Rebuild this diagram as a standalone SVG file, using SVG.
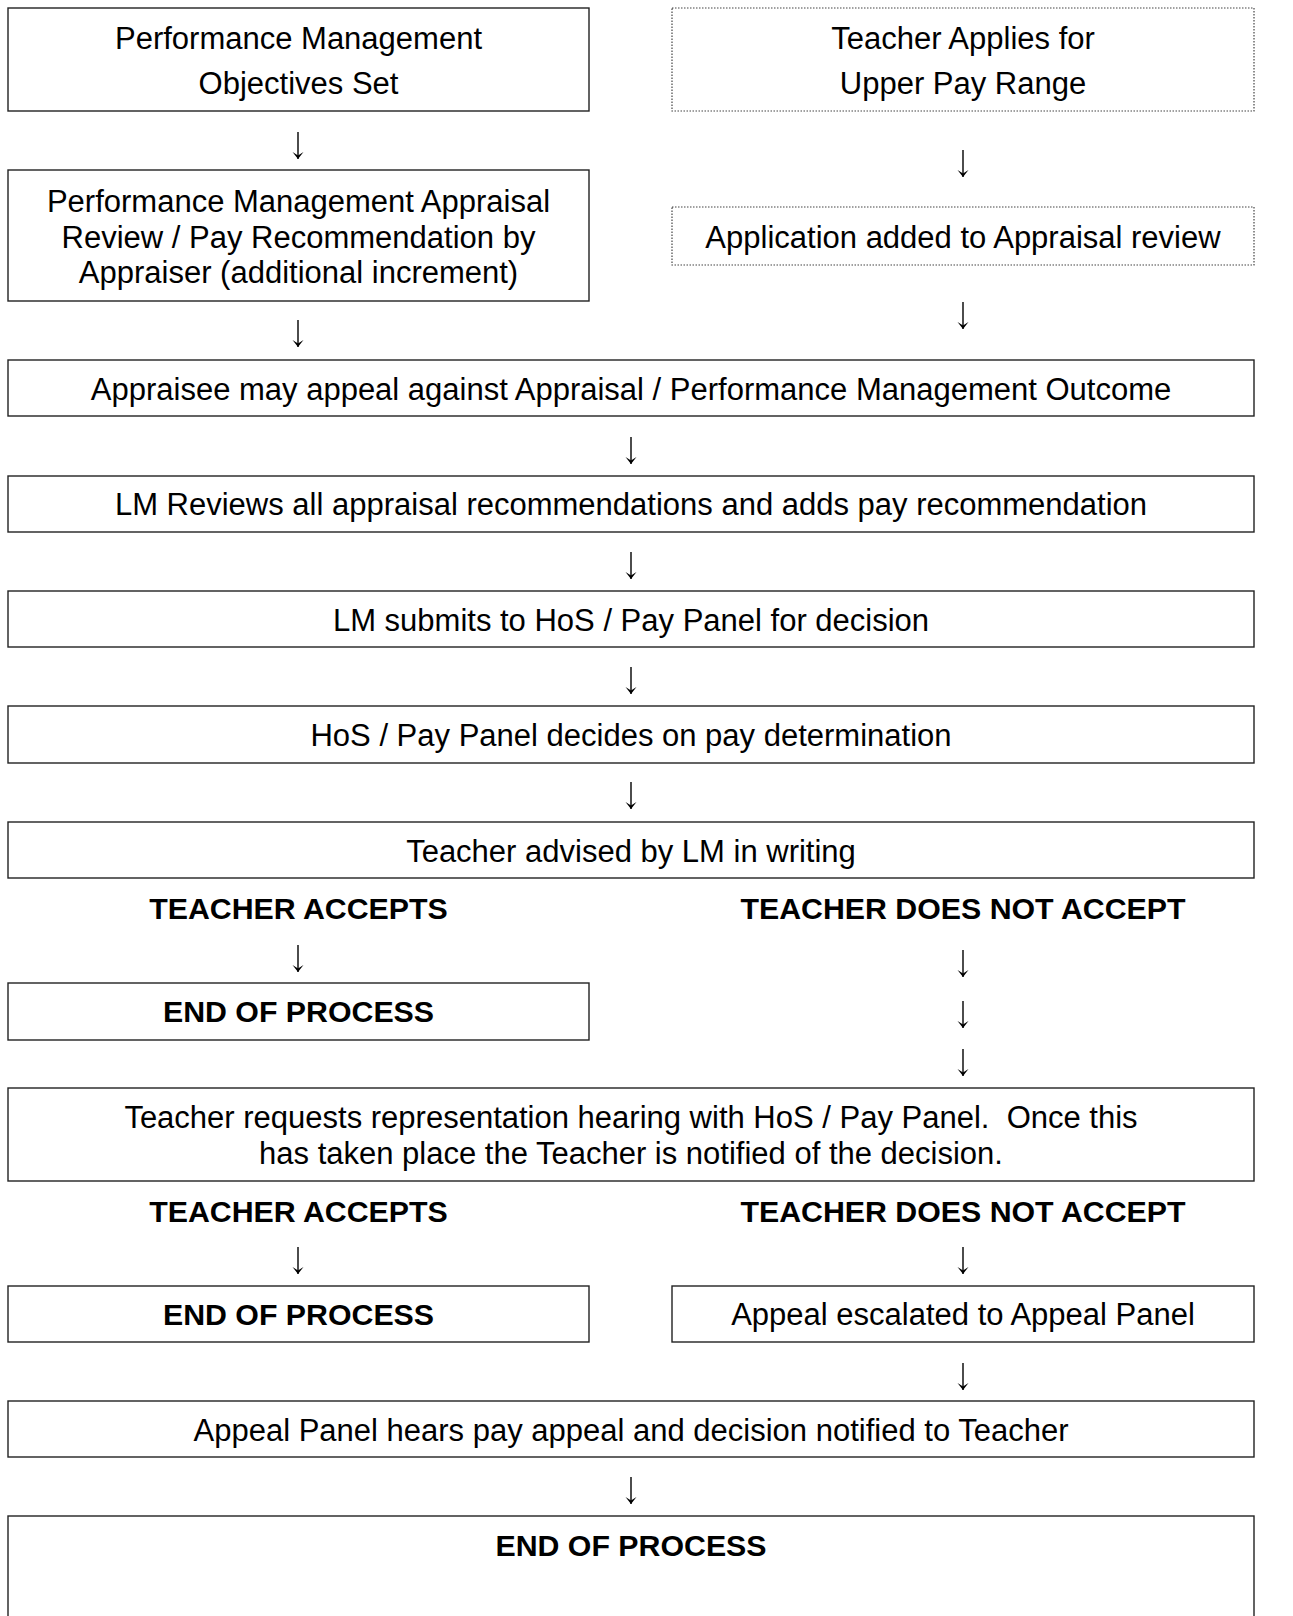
<svg xmlns="http://www.w3.org/2000/svg" width="1293" height="1616" viewBox="0 0 1293 1616">
<style>
.box{fill:#fff;stroke:#222;stroke-width:1.4}
.dot{fill:#fff;stroke:#444;stroke-width:1.2;stroke-dasharray:1.5 1.5}
.t{font-family:"Liberation Sans",Arial,sans-serif;font-size:31px;fill:#000;text-anchor:middle;white-space:pre}
.b{font-family:"Liberation Sans",Arial,sans-serif;font-size:30.3px;font-weight:bold;fill:#000;text-anchor:middle}
.c line{stroke:#000;stroke-width:1.4;marker-end:url(#ah)}
</style>
<defs>
<marker id="ah" markerUnits="userSpaceOnUse" markerWidth="14" markerHeight="10" refX="7" refY="9" orient="0" viewBox="0 0 14 10">
<path d="M1.5,2 L7,9 L12.5,2 L7,5.5 Z" fill="#000"/>
</marker>
</defs>
<rect width="1293" height="1616" fill="#fff"/>
<g id="n1"><rect class="box" x="8" y="8" width="581" height="103"/><text class="t" x="298.5" y="49">Performance Management</text><text class="t" x="298.5" y="94">Objectives Set</text></g>
<g id="n2"><rect class="dot" x="672" y="8" width="582" height="103"/><text class="t" x="963" y="49">Teacher Applies for</text><text class="t" x="963" y="94">Upper Pay Range</text></g>
<g id="n3"><rect class="box" x="8" y="170" width="581" height="131"/><text class="t" x="298.5" y="212">Performance Management Appraisal</text><text class="t" x="298.5" y="248">Review / Pay Recommendation by</text><text class="t" x="298.5" y="283">Appraiser (additional increment)</text></g>
<g id="n4"><rect class="dot" x="672" y="207" width="582" height="58"/><text class="t" x="963" y="248">Application added to Appraisal review</text></g>
<g id="n5"><rect class="box" x="8" y="360" width="1246" height="56"/><text class="t" x="631" y="400">Appraisee may appeal against Appraisal / Performance Management Outcome</text></g>
<g id="n6"><rect class="box" x="8" y="476" width="1246" height="56"/><text class="t" x="631" y="515">LM Reviews all appraisal recommendations and adds pay recommendation</text></g>
<g id="n7"><rect class="box" x="8" y="591" width="1246" height="56"/><text class="t" x="631" y="631">LM submits to HoS / Pay Panel for decision</text></g>
<g id="n8"><rect class="box" x="8" y="706" width="1246" height="57"/><text class="t" x="631" y="746">HoS / Pay Panel decides on pay determination</text></g>
<g id="n9"><rect class="box" x="8" y="822" width="1246" height="56"/><text class="t" x="631" y="862">Teacher advised by LM in writing</text></g>
<g id="l1"><text class="b" x="298.5" y="919">TEACHER ACCEPTS</text></g>
<g id="l2"><text class="b" x="963" y="919">TEACHER DOES NOT ACCEPT</text></g>
<g id="n10"><rect class="box" x="8" y="983" width="581" height="57"/><text class="b" x="298.5" y="1022">END OF PROCESS</text></g>
<g id="n11"><rect class="box" x="8" y="1088" width="1246" height="93"/><text class="t" x="631" y="1128">Teacher requests representation hearing with HoS / Pay Panel.  Once this</text><text class="t" x="631" y="1164">has taken place the Teacher is notified of the decision.</text></g>
<g id="l3"><text class="b" x="298.5" y="1222">TEACHER ACCEPTS</text></g>
<g id="l4"><text class="b" x="963" y="1222">TEACHER DOES NOT ACCEPT</text></g>
<g id="n12"><rect class="box" x="8" y="1286" width="581" height="56"/><text class="b" x="298.5" y="1325">END OF PROCESS</text></g>
<g id="n13"><rect class="box" x="672" y="1286" width="582" height="56"/><text class="t" x="963" y="1325">Appeal escalated to Appeal Panel</text></g>
<g id="n14"><rect class="box" x="8" y="1401" width="1246" height="56"/><text class="t" x="631" y="1441">Appeal Panel hears pay appeal and decision notified to Teacher</text></g>
<g id="n15"><rect class="box" x="8" y="1516" width="1246" height="120"/><text class="b" x="631" y="1556">END OF PROCESS</text></g>
<g id="connectors" class="c">
<line x1="298" y1="132" x2="298" y2="159"/>
<line x1="963" y1="150" x2="963" y2="177"/>
<line x1="298" y1="320" x2="298" y2="347"/>
<line x1="963" y1="302" x2="963" y2="329"/>
<line x1="631" y1="437" x2="631" y2="464"/>
<line x1="631" y1="552" x2="631" y2="579"/>
<line x1="631" y1="667" x2="631" y2="694"/>
<line x1="631" y1="782" x2="631" y2="809"/>
<line x1="298" y1="945" x2="298" y2="972"/>
<line x1="963" y1="950" x2="963" y2="977"/>
<line x1="963" y1="1001" x2="963" y2="1028"/>
<line x1="963" y1="1049" x2="963" y2="1076"/>
<line x1="298" y1="1247" x2="298" y2="1274"/>
<line x1="963" y1="1247" x2="963" y2="1274"/>
<line x1="963" y1="1363" x2="963" y2="1390"/>
<line x1="631" y1="1477" x2="631" y2="1504"/>
</g>
</svg>
